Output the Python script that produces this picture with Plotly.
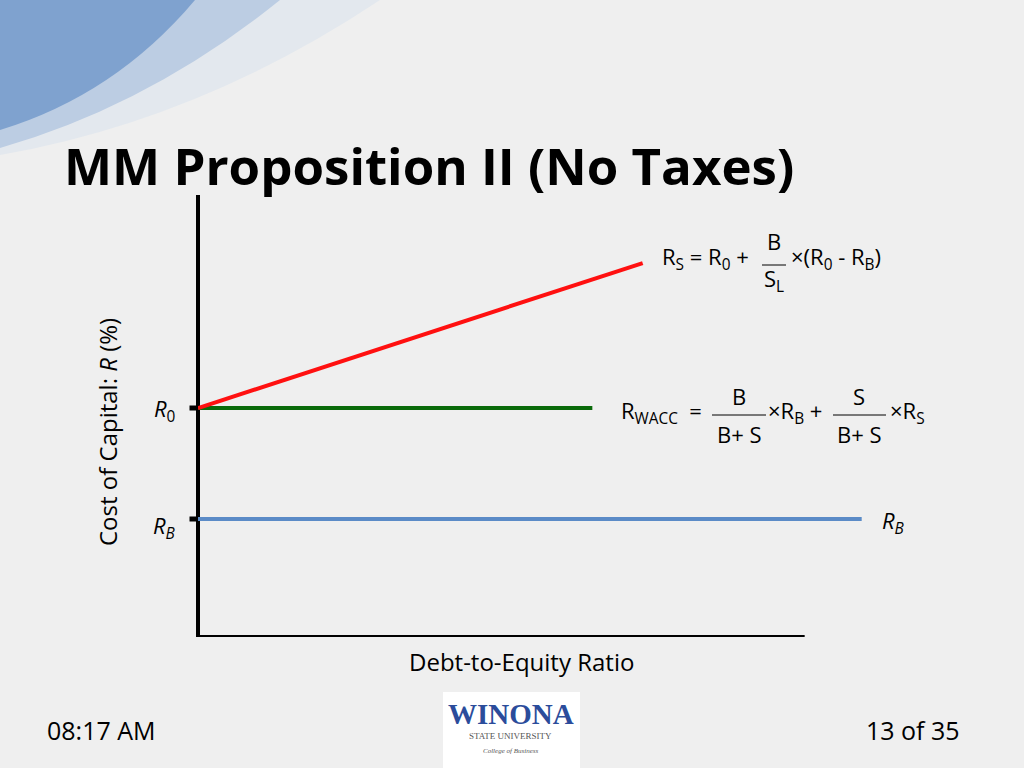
import plotly.graph_objects as go

W, H = 1024, 768
# data (cost of capital vs debt-to-equity ratio, arbitrary units)
de_ratio_rs = [0, 7.33]
rs_values = [5.18, 8.46]
de_ratio_wacc = [0, 6.5]
wacc_values = [5.18, 5.18]
de_ratio_rb = [0, 10.94]
rb_values = [2.67, 2.67]
axis_x = [0, 0, 10]
axis_y = [10.05, 0, 0]

FONT = "Open Sans"
def px(x, y):
    return x / W, 1 - y / H

fig = go.Figure()
fig.add_trace(go.Scatter(x=axis_x, y=axis_y, mode="lines", line=dict(color="black", width=4), hoverinfo="skip"))
fig.add_trace(go.Scatter(x=de_ratio_rb, y=rb_values, mode="lines", line=dict(color="#5b8bc7", width=4)))
fig.add_trace(go.Scatter(x=de_ratio_wacc, y=wacc_values, mode="lines", line=dict(color="#0a6a0a", width=4)))
fig.add_trace(go.Scatter(x=de_ratio_rs, y=rs_values, mode="lines", line=dict(color="#ff1010", width=4)))
# tick marks
for v in [rs_values[0], rb_values[0]]:
    fig.add_trace(go.Scatter(x=[-0.14, 0], y=[v, v], mode="lines", line=dict(color="black", width=5), hoverinfo="skip"))

shapes = [
    dict(type="rect", xref="paper", yref="paper", x0=0, y0=0, x1=1, y1=1, fillcolor="#efefef", line_width=0, layer="below"),
    dict(type="path", xref="paper", yref="paper", layer="below", line_width=0, fillcolor="#e3e8ee",
         path="M 0 1 L %f 1 Q %f %f 0 %f Z" % (380/W, 200/W, 1-120/H, 1-155/H)),
    dict(type="path", xref="paper", yref="paper", layer="below", line_width=0, fillcolor="#bccde3",
         path="M 0 1 L %f 1 Q %f %f 0 %f Z" % (280/W, 150/W, 1-105/H, 1-148/H)),
    dict(type="path", xref="paper", yref="paper", layer="below", line_width=0, fillcolor="#7fa2cf",
         path="M 0 1 L %f 1 Q %f %f 0 %f Z" % (195/W, 115/W, 1-95/H, 1-130/H)),
    dict(type="rect", xref="paper", yref="paper", x0=443/W, x1=580/W, y0=0, y1=1-692/H, fillcolor="white", line_width=0),
]
# fraction bars
for (x0, x1, y) in [(762, 786, 265), (712, 766, 415), (833, 886, 415)]:
    a, b = px(x0, y); c, d = px(x1, y)
    shapes.append(dict(type="line", xref="paper", yref="paper", x0=a, y0=b, x1=c, y1=d, line=dict(color="black", width=1)))

ann = []
def t(x, y, s, size=20, color="black", xa="center", ya="middle", angle=0, fam=FONT):
    a, b = px(x, y)
    ann.append(dict(x=a, y=b, xref="paper", yref="paper", text=s, showarrow=False, xanchor=xa, yanchor=ya,
                    textangle=angle, font=dict(size=size, color=color, family=fam)))

t(62, 165, "<b>MM Proposition II (No Taxes)</b>", size=51, xa="left")
t(107, 432, "Cost of Capital: <i>R</i> (%)", size=24, angle=-90)
t(521, 661, "Debt-to-Equity Ratio", size=24)
t(178, 410, "<i>R</i><sub>0</sub>", size=22, xa="right")
t(178, 527, "<i>R<sub>B</sub></i>", size=22, xa="right")
t(880, 522, "<i>R<sub>B</sub></i>", size=22, xa="left")
# formula 1
t(660, 258, "R<sub>S</sub> = R<sub>0</sub> +", size=22, xa="left")
t(774, 241, "B", size=22)
t(774, 280, "S<sub>L</sub>", size=22)
t(789, 258, "×(R<sub>0</sub> - R<sub>B</sub>)", size=22, xa="left")
# formula 2
t(619, 412, "R<sub>WACC</sub>  =", size=22, xa="left")
t(739, 396, "B", size=22)
t(739, 434, "B+ S", size=22)
t(766, 412, "×R<sub>B</sub> +", size=22, xa="left")
t(859, 396, "S", size=22)
t(859, 434, "B+ S", size=22)
t(888, 412, "×R<sub>S</sub>", size=22, xa="left")
# footer
t(45, 730, "08:17 AM", size=25, xa="left")
t(962, 730, "13 of 35", size=25, xa="right")
t(511, 714, "<b>WINONA</b>", size=29, color="#2b4c9b", fam="Liberation Serif")
t(510, 736, "STATE UNIVERSITY", size=9, color="#555", fam="Liberation Sans Narrow")
t(510, 751, "<i>College of Business</i>", size=7, color="#555", fam="Liberation Serif")

fig.update_layout(
    width=W, height=H, margin=dict(l=0, r=0, t=0, b=0), showlegend=False,
    paper_bgcolor="#efefef", plot_bgcolor="rgba(0,0,0,0)",
    xaxis=dict(range=[-0.5, 12], domain=[(198 - 0.5*60.67)/W, 926/W], visible=False, fixedrange=True),
    yaxis=dict(range=[0, 10], domain=[1-637/H, 1-195/H], visible=False, fixedrange=True),
    shapes=shapes, annotations=ann,
)
fig.write_html("out.html", config={"displayModeBar": False},
               post_script="document.body.style.margin='0';document.body.style.overflow='hidden';")
